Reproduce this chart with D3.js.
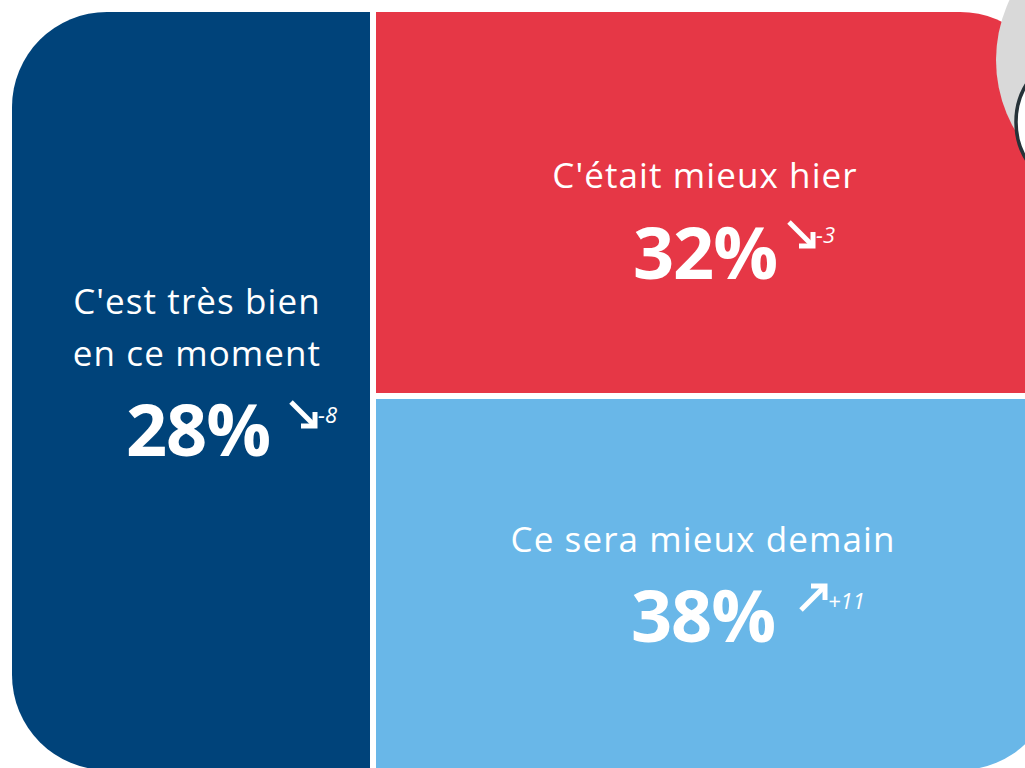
<!DOCTYPE html>
<html><head><meta charset="utf-8">
<script src="https://cdn.jsdelivr.net/npm/d3@7"></script>
<style>html,body{margin:0;padding:0;background:#fff;overflow:hidden}</style>
</head><body>
<svg id="chart" width="1025" height="768"></svg>
<script>
// ---- data ----
const categories = ["C'est très bien en ce moment", "C'était mieux hier", "Ce sera mieux demain"];
const labelLines = [["C'est très bien", "en ce moment"], ["C'était mieux hier"], ["Ce sera mieux demain"]];
const values = [28, 32, 38];
const changes = [-8, -3, 11];
const colors = ["#00437a", "#e63746", "#69b7e8"];

// ---- layout ----
const svg = d3.select("#chart");
const X0 = 12, Y0 = 12, X1 = 1055, Y1 = 770, R = 95, GAP = 6;
const xSplit = 370, ySplit = 393;

const defs = svg.append("defs");
defs.append("clipPath").attr("id", "clip")
  .append("rect").attr("x", X0).attr("y", Y0)
  .attr("width", X1 - X0).attr("height", Y1 - Y0).attr("rx", R).attr("ry", R);

const cells = [
  {x0: X0, y0: Y0, x1: xSplit, y1: Y1},
  {x0: xSplit + GAP, y0: Y0, x1: X1, y1: ySplit},
  {x0: xSplit + GAP, y0: ySplit + GAP, x1: X1, y1: Y1}
];

const g = svg.append("g").attr("clip-path", "url(#clip)");
g.selectAll("rect.cell").data(values).join("rect")
  .attr("class", "cell")
  .attr("x", (d, i) => cells[i].x0).attr("y", (d, i) => cells[i].y0)
  .attr("width", (d, i) => cells[i].x1 - cells[i].x0)
  .attr("height", (d, i) => cells[i].y1 - cells[i].y0)
  .attr("fill", (d, i) => colors[i]);

// decorative circle at top right
svg.append("circle").attr("cx", 1136).attr("cy", 60).attr("r", 140).attr("fill", "#d9d9d9");
svg.append("circle").attr("cx", 1088).attr("cy", 122).attr("r", 72)
  .attr("fill", "#ffffff").attr("stroke", "#263238").attr("stroke-width", 3.5);

// text placement (per cell: center x of label, label baselines, value anchor, arrow start)
const textPos = [
  {cx: 197, lines: [314, 366], vx: 198, vy: 456, ax: 291, ay: 402},
  {cx: 705, lines: [188], vx: 705, vy: 279, ax: 789, ay: 222},
  {cx: 703, lines: [552], vx: 703, vy: 642, ax: 801, ay: 610}
];

const font = "'Open Sans', sans-serif";
const fmtChange = d => (d > 0 ? "+" : "") + d;

values.forEach((v, i) => {
  const p = textPos[i];
  const tg = svg.append("g").attr("fill", "#fff").style("font-family", font);
  labelLines[i].forEach((line, j) => {
    tg.append("text").attr("x", p.cx).attr("y", p.lines[j])
      .attr("text-anchor", "middle").style("font-size", "35px")
      .attr("letter-spacing", "1.1").text(line);
  });
  tg.append("text").attr("x", p.vx).attr("y", p.vy)
    .attr("text-anchor", "middle").style("font-size", "72px").style("font-weight", "700")
    .attr("letter-spacing", "-1")
    .text(v + "%");
  // arrow
  const up = changes[i] > 0;
  const ax = p.ax, ay = p.ay, L = 24;
  const ex = ax + L, ey = up ? ay - L : ay + L;
  const dir = up ? [1, -1] : [1, 1];
  const h = 14;
  svg.append("line").attr("x1", ax).attr("y1", ay).attr("x2", ex - dir[0] * 2).attr("y2", ey - dir[1] * 2)
    .attr("stroke", "#fff").attr("stroke-width", 5).attr("stroke-linecap", "butt");
  const path = d3.path();
  path.moveTo(ex - dir[0] * h, ey);
  path.lineTo(ex, ey);
  path.lineTo(ex, ey - dir[1] * h);
  svg.append("path").attr("d", path.toString()).attr("fill", "none")
    .attr("stroke", "#fff").attr("stroke-width", 5).attr("stroke-linejoin", "miter");
  tg.append("text").attr("x", ex + 3).attr("y", up ? ey + 23 : ey - 3)
    .style("font-size", "22px").style("font-style", "italic").text(fmtChange(changes[i]));
});
</script>
</body></html>
